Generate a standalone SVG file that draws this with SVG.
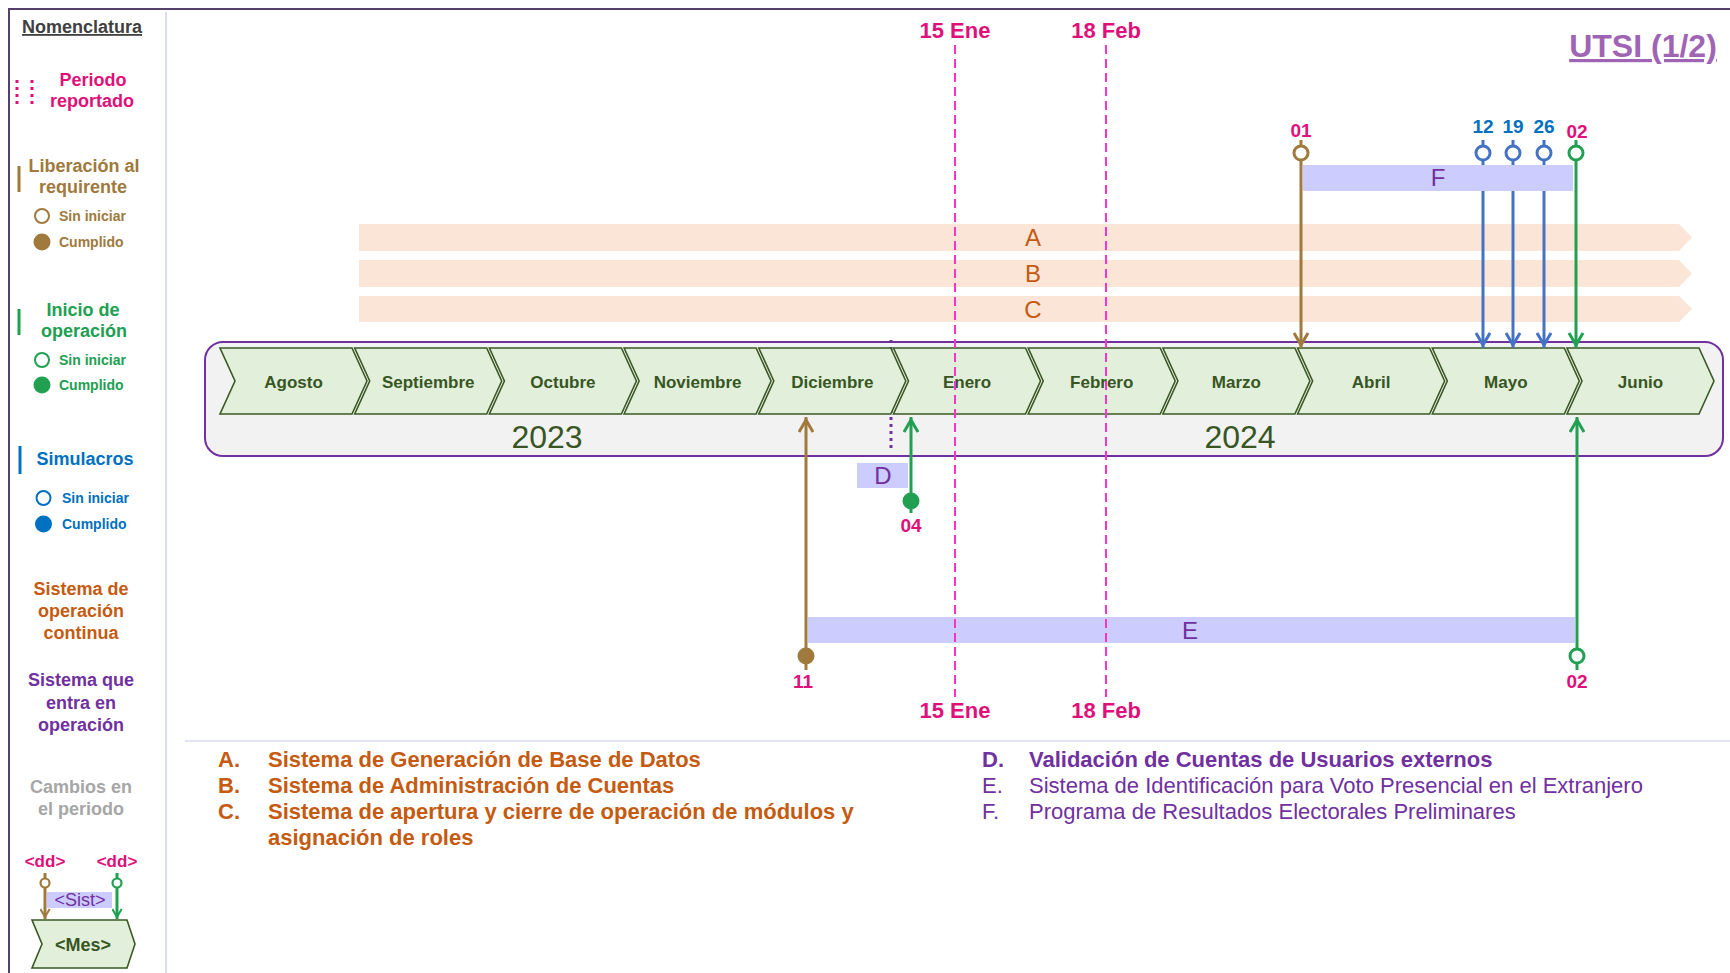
<svg xmlns="http://www.w3.org/2000/svg" width="1730" height="973" viewBox="0 0 1730 973">
<style>
text{font-family:"Liberation Sans",Arial,sans-serif}
.b{font-weight:bold}
.mag{fill:#E0107A}
.brn{fill:#A0793D}
.grn{fill:#20A050}
.blu{fill:#0070C0}
.org{fill:#C55A11}
.pur{fill:#7030A0}
.gry{fill:#A6A6A6}
.lg{font-size:18px;font-weight:bold;text-anchor:middle}
.sm{font-size:14px;font-weight:bold}
.dd{font-size:17px;font-weight:bold;text-anchor:middle;fill:#E0107A}
.mon{font-size:17px;font-weight:bold;fill:#375623;text-anchor:middle}
.yr{font-size:32px;fill:#375623;text-anchor:middle}
.day{font-size:19px;font-weight:bold;text-anchor:middle}
.per{font-size:22px;font-weight:bold;text-anchor:middle;fill:#E0107A}
.let{font-size:24px;text-anchor:middle}
.leg{font-size:22px}
.chev{fill:#E2EFDA;stroke:#3A5A24;stroke-width:1.6}
.dash{stroke:#FF33CC;stroke-width:2;stroke-dasharray:9,5;fill:none}
.sb{stroke:#A0793D;stroke-width:3;fill:none}
.sg{stroke:#20A050;stroke-width:3;fill:none}
.sl{stroke:#4472C4;stroke-width:3;fill:none}
.bar{fill:#FBE5D6}
.sys{fill:#CCCCFF}
</style>
<defs>
<polygon id="chev" points="0,0 132,0 147,33 132,66 0,66 15,33"/>
<marker id="aB" markerUnits="userSpaceOnUse" viewBox="0 0 18 16" refX="16" refY="8" markerWidth="18" markerHeight="16" orient="auto"><path d="M1,1 L13,8 L1,15" fill="none" stroke="#A0793D" stroke-width="3"/></marker>
<marker id="aG" markerUnits="userSpaceOnUse" viewBox="0 0 18 16" refX="16" refY="8" markerWidth="18" markerHeight="16" orient="auto"><path d="M1,1 L13,8 L1,15" fill="none" stroke="#20A050" stroke-width="3"/></marker>
<marker id="aL" markerUnits="userSpaceOnUse" viewBox="0 0 18 16" refX="16" refY="8" markerWidth="18" markerHeight="16" orient="auto"><path d="M1,1 L13,8 L1,15" fill="none" stroke="#4472C4" stroke-width="3"/></marker>
<marker id="aBs" markerUnits="userSpaceOnUse" viewBox="0 0 18 16" refX="16" refY="8" markerWidth="12" markerHeight="11" orient="auto"><path d="M1,1 L13,8 L1,15" fill="none" stroke="#A0793D" stroke-width="3"/></marker>
<marker id="aGs" markerUnits="userSpaceOnUse" viewBox="0 0 18 16" refX="16" refY="8" markerWidth="12" markerHeight="11" orient="auto"><path d="M1,1 L13,8 L1,15" fill="none" stroke="#20A050" stroke-width="3"/></marker>
</defs>
<rect width="1730" height="973" fill="#FFFFFF"/>

<!-- frame -->
<g id="frame">
<line x1="8" y1="9" x2="1730" y2="9" stroke="#54406A" stroke-width="2"/>
<line x1="9" y1="8" x2="9" y2="973" stroke="#54406A" stroke-width="2"/>
<line x1="166" y1="12" x2="166" y2="973" stroke="#DCDCF4" stroke-width="2"/>
<line x1="185" y1="741" x2="1730" y2="741" stroke="#E2E2F8" stroke-width="2"/>
</g>

<!-- legend panel -->
<g id="legend">
<text x="82" y="33" class="lg" fill="#404040" text-decoration="underline">Nomenclatura</text>
<line x1="17" y1="80" x2="17" y2="107" stroke="#E0107A" stroke-width="3" stroke-dasharray="3,4"/>
<line x1="32" y1="80" x2="32" y2="107" stroke="#E0107A" stroke-width="3" stroke-dasharray="3,4"/>
<text x="93" y="86" class="lg mag">Periodo</text>
<text x="92" y="107" class="lg mag">reportado</text>

<line x1="19" y1="166" x2="19" y2="192" stroke="#A0793D" stroke-width="3"/>
<text x="84" y="172" class="lg brn">Liberación al</text>
<text x="83" y="193" class="lg brn">requirente</text>
<circle cx="42" cy="216" r="7" fill="#fff" stroke="#A0793D" stroke-width="2"/>
<text x="59" y="221" class="sm brn">Sin iniciar</text>
<circle cx="42" cy="242" r="8.5" fill="#A0793D"/>
<text x="59" y="247" class="sm brn">Cumplido</text>

<line x1="19" y1="309" x2="19" y2="335" stroke="#20A050" stroke-width="3"/>
<text x="83" y="316" class="lg grn">Inicio de</text>
<text x="84" y="337" class="lg grn">operación</text>
<circle cx="42" cy="360" r="7" fill="#fff" stroke="#20A050" stroke-width="2"/>
<text x="59" y="365" class="sm grn">Sin iniciar</text>
<circle cx="42" cy="385" r="8.5" fill="#20A050"/>
<text x="59" y="390" class="sm grn">Cumplido</text>

<line x1="20" y1="446" x2="20" y2="474" stroke="#0070C0" stroke-width="3"/>
<text x="85" y="465" class="lg blu">Simulacros</text>
<circle cx="43.5" cy="498" r="7" fill="#fff" stroke="#0070C0" stroke-width="2"/>
<text x="62" y="503" class="sm blu">Sin iniciar</text>
<circle cx="43.5" cy="524" r="8.5" fill="#0070C0"/>
<text x="62" y="529" class="sm blu">Cumplido</text>

<text x="81" y="595" class="lg org">Sistema de</text>
<text x="81" y="617" class="lg org">operación</text>
<text x="81" y="639" class="lg org">continua</text>

<text x="81" y="686" class="lg pur">Sistema que</text>
<text x="81" y="709" class="lg pur">entra en</text>
<text x="81" y="731" class="lg pur">operación</text>

<text x="81" y="793" class="lg gry">Cambios en</text>
<text x="81" y="815" class="lg gry">el periodo</text>

<text x="45" y="867" class="dd">&lt;dd&gt;</text>
<text x="117" y="867" class="dd">&lt;dd&gt;</text>
<rect x="47" y="892" width="65" height="16" class="sys"/>
<text x="80" y="906" class="pur" font-size="18" text-anchor="middle">&lt;Sist&gt;</text>
<line x1="45" y1="873" x2="45" y2="919" class="sb" stroke-width="2.5" marker-end="url(#aBs)"/>
<circle cx="45" cy="883" r="4.5" fill="#fff" stroke="#A0793D" stroke-width="2.2"/>
<line x1="117" y1="873" x2="117" y2="919" class="sg" stroke-width="2.5" marker-end="url(#aGs)"/>
<circle cx="117" cy="883" r="4.5" fill="#fff" stroke="#20A050" stroke-width="2.2"/>
<polygon points="32,920 127,920 135,944 127,968 32,968 42,944" class="chev"/>
<text x="83" y="951" class="b" font-size="18" fill="#375623" text-anchor="middle">&lt;Mes&gt;</text>
</g>

<!-- continuous systems bars -->
<g id="sysA"><polygon points="359,224 1679,224 1692,237.5 1679,251 359,251" class="bar"/><text x="1033" y="246" class="let org">A</text></g>
<g id="sysB"><polygon points="359,260 1679,260 1692,273.5 1679,287 359,287" class="bar"/><text x="1033" y="282" class="let org">B</text></g>
<g id="sysC"><polygon points="359,296 1679,296 1692,309 1679,322 359,322" class="bar"/><text x="1033" y="318" class="let org">C</text></g>

<!-- timeline -->
<g id="timeline">
<rect x="205" y="342" width="1518" height="114" rx="18" fill="#F2F2F2" stroke="#7030A0" stroke-width="2"/>
<line x1="891" y1="340" x2="891" y2="452" stroke="#7030A0" stroke-width="3" stroke-dasharray="3,4"/>
<g id="m-ago"><use href="#chev" x="220" y="348" class="chev"/><text x="293.5" y="388" class="mon">Agosto</text></g>
<g id="m-sep"><use href="#chev" x="354.7" y="348" class="chev"/><text x="428.2" y="388" class="mon">Septiembre</text></g>
<g id="m-oct"><use href="#chev" x="489.4" y="348" class="chev"/><text x="562.9" y="388" class="mon">Octubre</text></g>
<g id="m-nov"><use href="#chev" x="624.1" y="348" class="chev"/><text x="697.6" y="388" class="mon">Noviembre</text></g>
<g id="m-dic"><use href="#chev" x="758.8" y="348" class="chev"/><text x="832.3" y="388" class="mon">Diciembre</text></g>
<g id="m-ene"><use href="#chev" x="893.5" y="348" class="chev"/><text x="967" y="388" class="mon">Enero</text></g>
<g id="m-feb"><use href="#chev" x="1028.2" y="348" class="chev"/><text x="1101.7" y="388" class="mon">Febrero</text></g>
<g id="m-mar"><use href="#chev" x="1162.9" y="348" class="chev"/><text x="1236.4" y="388" class="mon">Marzo</text></g>
<g id="m-abr"><use href="#chev" x="1297.6" y="348" class="chev"/><text x="1371.1" y="388" class="mon">Abril</text></g>
<g id="m-may"><use href="#chev" x="1432.3" y="348" class="chev"/><text x="1505.8" y="388" class="mon">Mayo</text></g>
<g id="m-jun"><use href="#chev" x="1567" y="348" class="chev"/><text x="1640.5" y="388" class="mon">Junio</text></g>
<text x="547" y="448" class="yr">2023</text>
<text x="1240" y="448" class="yr">2024</text>
</g>

<!-- connectors -->
<g id="connectors">
<line x1="1301" y1="140" x2="1301" y2="348" class="sb" marker-end="url(#aB)"/>
<line x1="1483" y1="140" x2="1483" y2="348" class="sl" marker-end="url(#aL)"/>
<line x1="1513" y1="140" x2="1513" y2="348" class="sl" marker-end="url(#aL)"/>
<line x1="1544" y1="140" x2="1544" y2="348" class="sl" marker-end="url(#aL)"/>
<line x1="1576" y1="140" x2="1576" y2="348" class="sg" marker-end="url(#aG)"/>
<line x1="806" y1="670" x2="806" y2="417" class="sb" marker-end="url(#aB)"/>
<line x1="911" y1="513" x2="911" y2="417" class="sg" marker-end="url(#aG)"/>
<line x1="1577" y1="670" x2="1577" y2="417" class="sg" marker-end="url(#aG)"/>
</g>

<!-- systems entering operation -->
<g id="sysF"><rect x="1303" y="165" width="270" height="26" class="sys"/><text x="1438" y="186" class="let pur">F</text></g>
<g id="sysD"><rect x="857" y="463" width="51" height="25" class="sys"/><text x="883" y="484" class="let pur">D</text></g>
<g id="sysE"><rect x="808" y="617" width="767" height="26" class="sys"/><text x="1190" y="639" class="let pur">E</text></g>

<!-- milestones -->
<g id="milestones">
<circle cx="1301" cy="153" r="7" fill="#fff" stroke="#A0793D" stroke-width="3"/>
<circle cx="1483" cy="153" r="7" fill="#fff" stroke="#4472C4" stroke-width="3"/>
<circle cx="1513" cy="153" r="7" fill="#fff" stroke="#4472C4" stroke-width="3"/>
<circle cx="1544" cy="153" r="7" fill="#fff" stroke="#4472C4" stroke-width="3"/>
<circle cx="1576" cy="153" r="7" fill="#fff" stroke="#20A050" stroke-width="3"/>
<text x="1301" y="137" class="day mag">01</text>
<text x="1483" y="133" class="day blu">12</text>
<text x="1513" y="133" class="day blu">19</text>
<text x="1544" y="133" class="day blu">26</text>
<text x="1577" y="138" class="day mag">02</text>
<circle cx="911" cy="501" r="8.5" fill="#20A050"/>
<text x="911" y="532" class="day mag">04</text>
<circle cx="806" cy="656" r="8.5" fill="#A0793D"/>
<text x="803" y="688" class="day mag">11</text>
<circle cx="1577" cy="656" r="7" fill="#fff" stroke="#20A050" stroke-width="3"/>
<text x="1577" y="688" class="day mag">02</text>
</g>

<!-- reported period -->
<g id="period">
<line x1="955" y1="45" x2="955" y2="697" class="dash"/>
<line x1="1106" y1="45" x2="1106" y2="697" class="dash"/>
<text x="955" y="38" class="per">15 Ene</text>
<text x="1106" y="38" class="per">18 Feb</text>
<text x="955" y="718" class="per">15 Ene</text>
<text x="1106" y="718" class="per">18 Feb</text>
</g>

<text x="1643" y="57" class="b" font-size="32" fill="#A064B4" text-anchor="middle" text-decoration="underline">UTSI (1/2)</text>

<!-- list -->
<g id="list">
<text x="218" y="767" class="leg b org">A.</text>
<text x="268" y="767" class="leg b org">Sistema de Generación de Base de Datos</text>
<text x="218" y="793" class="leg b org">B.</text>
<text x="268" y="793" class="leg b org">Sistema de Administración  de Cuentas</text>
<text x="218" y="819" class="leg b org">C.</text>
<text x="268" y="819" class="leg b org">Sistema de apertura y cierre de operación de módulos  y</text>
<text x="268" y="845" class="leg b org">asignación de roles</text>
<text x="982" y="767" class="leg b pur">D.</text>
<text x="1029" y="767" class="leg b pur">Validación de Cuentas de Usuarios externos</text>
<text x="982" y="793" class="leg pur">E.</text>
<text x="1029" y="793" class="leg pur">Sistema de Identificación para Voto Presencial en el Extranjero</text>
<text x="982" y="819" class="leg pur">F.</text>
<text x="1029" y="819" class="leg pur">Programa de Resultados Electorales Preliminares</text>
</g>
</svg>
